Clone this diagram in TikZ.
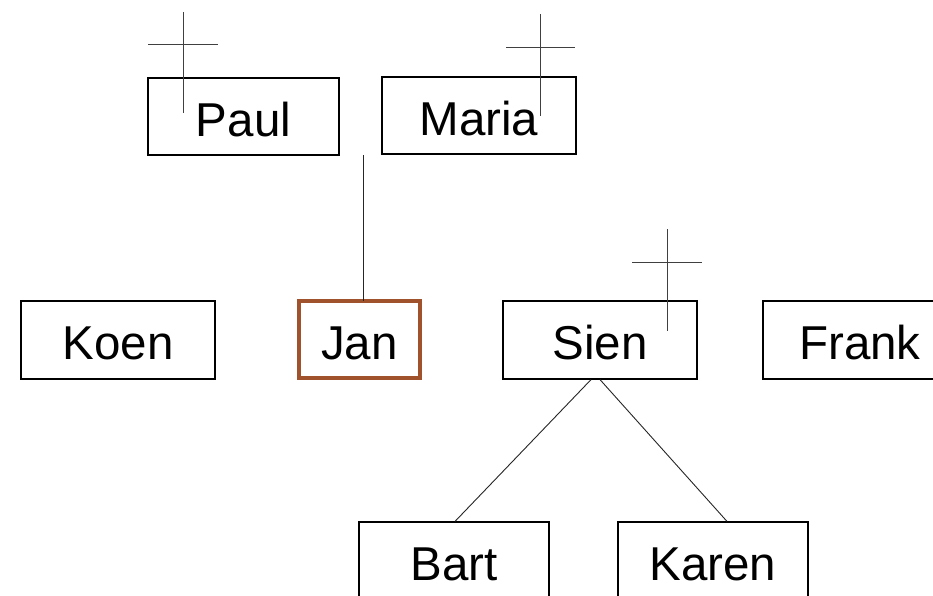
\documentclass[tikz,border=0pt]{standalone}
\usepackage{fontspec}
\setmainfont{Liberation Sans}
\definecolor{janbrown}{HTML}{A0522D}
\begin{document}
\begin{tikzpicture}[x=1pt,y=-1pt,
  person/.style={draw=black,line width=1.2pt,inner sep=0pt,minimum height=77pt,
    text height=39pt,text depth=0pt,font=\fontsize{47.5}{50}\selectfont},
  thin/.style={line width=0.9pt,black!85},
  cross/.style={line width=1pt,black!75}]
\clip (0,0) rectangle (933,595);
\fill[white] (0,0) rectangle (933,595);
\node[person,minimum width=191pt] (Paul) at (243.5,116.5) {Paul};
\node[person,minimum width=194pt] (Maria) at (479,115.5) {Maria};
\node[person,minimum width=194pt,minimum height=78pt] (Koen) at (118,340) {Koen};
\node[person,draw=janbrown,line width=4.5pt,minimum width=121pt] (Jan) at (359.5,339.5) {Jan};
\node[person,minimum width=194pt,minimum height=78pt] (Sien) at (600,340) {Sien};
\node[person,minimum width=194pt,minimum height=78pt] (Frank) at (860,340) {Frank};
\node[person,minimum width=190pt,minimum height=78pt] (Bart) at (454,561) {Bart};
\node[person,minimum width=190pt,minimum height=78pt] (Karen) at (713,561) {Karen};
% connectors
\coordinate (parents) at (363.5,155);
\draw[thin] ([xshift=4pt,yshift=-2pt]Jan.north) -- (parents);
\draw[thin] ([xshift=-9pt]Sien.south) -- ([xshift=1pt]Bart.north);
\draw[thin] (Sien.south) -- ([xshift=14pt]Karen.north);
% death crosses
\draw[cross] (183,12) -- (183,113) (148,44) -- (218,44);
\draw[cross] (540,14) -- (540,116) (506,47) -- (575,47);
\draw[cross] (667,229) -- (667,331) (632,262) -- (702,262);
\end{tikzpicture}
\end{document}
